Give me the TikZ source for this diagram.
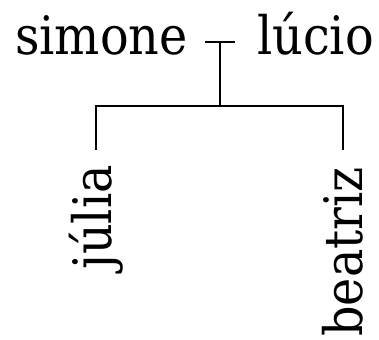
\documentclass[tikz,border=0pt]{standalone}
\usepackage{fontspec}
\setmainfont{DejaVu Serif Condensed}
\usepackage{tikz}
\usetikzlibrary{positioning}

\tikzset{
  person/.style={font=\fontsize{53}{60}\selectfont, inner sep=0pt},
  child/.style={person, rotate=90, anchor=east},
  tie/.style={line width=1.8pt}
}

\begin{document}
\begin{tikzpicture}[x=1pt, y=1pt]
\useasboundingbox (0,0) rectangle (379,339);

% parents and the marriage line
\node[person, anchor=base east] (simone) at (188,284) {simone};
\node[person, anchor=base west] (lucio) at (257,284) {lúcio};
\coordinate (wed) at (220,297);
\draw[tie] ([xshift=-15pt]wed) -- ([xshift=15pt]wed);

% children
\node[child] (julia) at (96,174) {júlia};
\node[child] (beatriz) at (343,172) {beatriz};

% descent lines
\coordinate (bar) at (220,233);
\draw[tie] (wed) -- (bar);
\draw[tie] ([yshift=15pt]julia.east) |- (bar) -| ([yshift=17pt]beatriz.east);
\end{tikzpicture}
\end{document}
